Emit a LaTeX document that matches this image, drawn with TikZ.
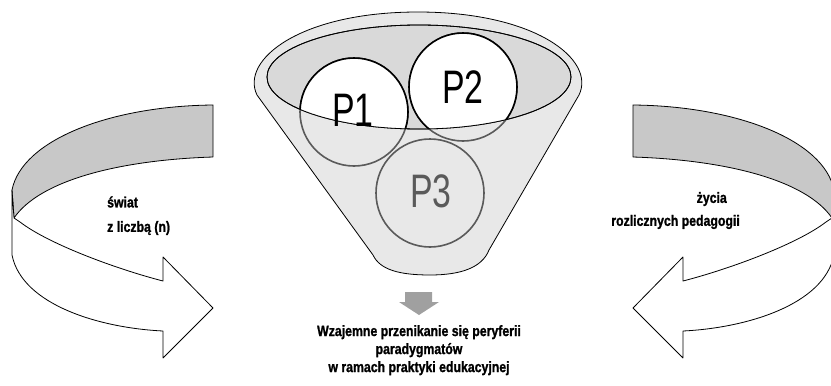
\documentclass[tikz,border=0pt]{standalone}
\usepackage{fontspec}
\setmainfont{Liberation Sans}
\newfontfamily\pfont[FakeStretch=0.72]{Liberation Sans}
\newfontfamily\labelfont[FakeStretch=0.82, BoldFeatures={FakeBold=1.2}]{Liberation Sans}
\definecolor{funnelfill}{HTML}{E8E8E8}
\definecolor{mouthfill}{HTML}{D9D9D9}
\definecolor{bandfill}{HTML}{C8C8C8}
\definecolor{downgray}{HTML}{A0A0A0}
\definecolor{backline}{HTML}{5A5A5A}
\tikzset{
  outline/.style={draw=black, line width=0.8pt},
  bubble/.style={line width=1.6pt},
  caption/.style={font=\labelfont\bfseries\fontsize{15}{18}\selectfont, inner sep=0pt}
}

\begin{document}
\begin{tikzpicture}[x=1pt, y=-1pt, line join=round]
        \useasboundingbox (0,0) rectangle (831,386);
        \def\Rb{54}

        \coordinate (C1) at (354,112);
        \coordinate (C2) at (463,87);
        \coordinate (C3) at (430,193);
        \coordinate (M) at (419,77);

        % funnel body
        \draw[outline, fill=funnelfill] (257,95) .. controls (240,60) and (300,12) .. (418,12)
            .. controls (536,12) and (596,60) .. (579,95) -- (489,250)
            .. controls (482,268) and (460,275) .. (430,275)
            .. controls (400,275) and (380,270) .. (373,255) -- cycle;
        \draw[outline, fill=mouthfill] (M) ellipse [x radius=152, y radius=52];

        % circles behind the front of the funnel
        \foreach \c in {C1,C2,C3}
            \draw[bubble, draw=backline] (\c) circle (\Rb);
        \begin{scope}
            \clip (M) ellipse [x radius=152, y radius=52];
            \fill[white] (C1) circle (\Rb) (C2) circle (\Rb);
            \draw[bubble, black] (C1) circle (\Rb) (C2) circle (\Rb);
        \end{scope}
        \draw[outline] (M) ellipse [x radius=152, y radius=52];

        \node[font=\pfont\fontsize{47}{47}\selectfont] (p1) at (353,110) {P1};
        \node[font=\pfont\fontsize{47}{47}\selectfont] (p2) at (463,87) {P2};
        \node[font=\pfont\fontsize{47}{47}\selectfont, text=backline] (p3) at (431,191) {P3};

        % turning arrows
        \def\band{(213,105) .. controls (110,106) and (22,140) .. (12,190) -- (14,218)
            .. controls (40,180) and (120,160) .. (213,157) -- cycle}
        \def\front{(12,190) -- (12,255) .. controls (22,305) and (100,328) .. (163,331)
            -- (163,358) -- (213,308) -- (163,257) -- (163,281)
            .. controls (120,270) and (50,245) .. (20,222) -- (14,218) -- cycle}
        \draw[outline, fill=bandfill] \band;
        \draw[outline, fill=white] \front;
        \begin{scope}[xshift=846pt, xscale=-1]
            \draw[outline, fill=bandfill] \band;
            \draw[outline, fill=white] \front;
        \end{scope}

        % down arrow
        \fill[downgray] (405,292) -- (432,292) -- (432,302) -- (439,302) -- (419,315)
            -- (399,302) -- (405,302) -- cycle;

        \node[caption, anchor=west] (swiat) at (107,202) {świat};
        \node[caption, anchor=west] (liczba) at (107,228) {z liczbą (n)};
        \node[caption, anchor=east] (zycie) at (727,199) {życia};
        \node[caption, anchor=east] (pedagogie) at (740,222) {rozlicznych pedagogii};
        \node[caption, align=center, anchor=north] (wynik) at (419,325)
            {Wzajemne przenikanie się peryferii\\paradygmatów\\w ramach praktyki edukacyjnej};
\end{tikzpicture}
\end{document}
